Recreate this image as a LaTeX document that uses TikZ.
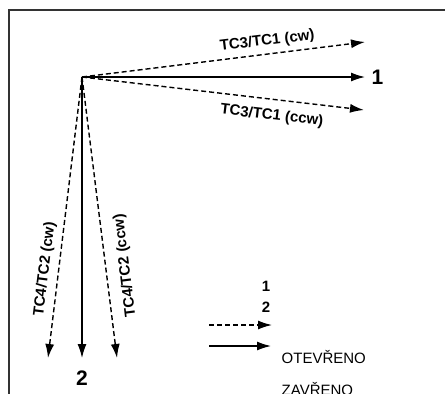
\documentclass[tikz,border=0pt]{standalone}
\usepackage{fontspec}
\setmainfont{Liberation Sans}
\usetikzlibrary{arrows.meta,positioning}

\begin{document}
\begin{tikzpicture}[x=1pt,y=-1pt,->,>={Latex[length=14pt,width=9pt]},line width=1.4pt,
    openline/.style={dash pattern=on 5pt off 3pt},
    lbl/.style={font=\bfseries\fontsize{15}{18}\selectfont,inner sep=0pt},
    axislbl/.style={font=\bfseries\fontsize{21}{25}\selectfont,inner sep=0pt},
    txt/.style={font=\fontsize{15}{18}\selectfont,inner sep=0pt}]
  \useasboundingbox (0,0) rectangle (445,394);
  \clip (0,0) rectangle (445,394);
  \draw[-,line width=1.4pt,black!80] (9,394) -- (9,10) -- (445,10);

  % origin and arrow tips
  \coordinate (o) at (82,77);
  \coordinate (t1) at (365,77);
  \coordinate (tcw) at (365,42);
  \coordinate (tccw) at (364,110);
  \coordinate (t2) at (82,358);
  \coordinate (tl) at (48,358);
  \coordinate (tr) at (117,358);

  \draw (o) -- (t1);
  \draw[openline] (o) -- node[lbl,pos=0.66,sloped,above,inner sep=5pt] (cw1) {TC3/TC1 (cw)} (tcw);
  \draw[openline] (o) -- node[lbl,pos=0.68,sloped,below,inner sep=9pt] (ccw1) {TC3/TC1 (ccw)} (tccw);
  \draw (o) -- (t2);
  \draw[openline] (o) -- node[lbl,pos=0.69,rotate=83,anchor=south,inner sep=6pt] (cw2) {TC4/TC2 (cw)} (tl);
  \draw[openline] (o) -- node[lbl,pos=0.68,rotate=97,anchor=north,inner sep=12pt] (ccw2) {TC4/TC2 (ccw)} (tr);

  \node[axislbl,right=6pt of t1] (n1) {1};
  \node[axislbl,below=12pt of t2] (n2) {2};

  % legend
  \coordinate (d0) at (209,325);
  \coordinate (d1) at (272,325);
  \coordinate (s0) at (209,346);
  \coordinate (s1) at (271,346);
  \draw[openline] (d0) -- (d1);
  \draw (s0) -- (s1);
  \node[lbl,anchor=base] (k1) at (266,291) {1};
  \node[lbl,anchor=base] (k2) at (266,312) {2};
  \node[txt,anchor=base west] (open) at (281,363) {OTEVŘENO};
  \node[txt,anchor=base west] (shut) at (281,395.5) {ZAVŘENO};
\end{tikzpicture}
\end{document}
